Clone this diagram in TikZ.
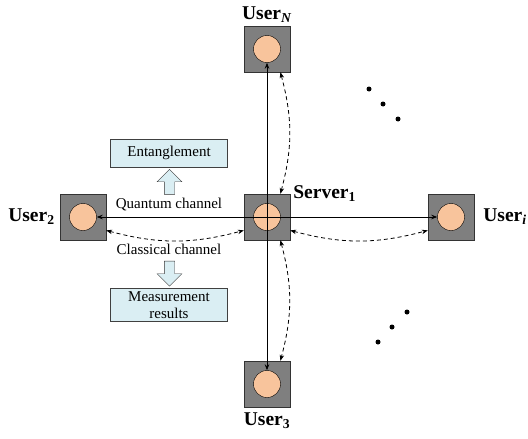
\documentclass[tikz,border=0pt]{standalone}
\usepackage{fontspec}
\setmainfont{Liberation Serif}
\usetikzlibrary{arrows.meta,positioning,shapes.arrows}
\definecolor{boxgray}{HTML}{7F7F7F}
\definecolor{peach}{HTML}{F8C49C}
\definecolor{paleblue}{HTML}{DAEEF3}

\begin{document}
\begin{tikzpicture}[x=1pt,y=-1pt,
    lbl/.style={inner sep=1pt,font=\fontsize{19.5}{21}\selectfont\bfseries},
    small/.style={inner sep=1pt,font=\fontsize{15}{16}\selectfont},
    infobox/.style={draw=black!75,fill=paleblue,minimum width=117pt,inner sep=1pt,
        align=center,font=\fontsize{15}{17}\selectfont},
    blockarrow/.style={draw=black!80,fill=paleblue,single arrow,minimum width=21pt,
        minimum height=25pt,inner sep=5pt}]
    \useasboundingbox (0,0) rectangle (528,439);

    % server and user boxes, use the tuple for location
    \begin{scope}[every node/.style={draw=black!80,fill=boxgray,minimum size=46pt,inner sep=0pt}]
    \node (S) at (267,217) {};
    \node (UN) at (267,49) {};
    \node (U2) at (83,217) {};
    \node (Ui) at (451,217) {};
    \node (U3) at (267,384) {};
    \end{scope}

    \begin{scope}[every node/.style={circle,draw=black,fill=peach,minimum size=27pt,inner sep=0pt}]
    \node (Sc) at (S) {};
    \node (UNc) at (UN) {};
    \node (U2c) at (U2) {};
    \node (Uic) at (Ui) {};
    \node (U3c) at (U3) {};
    \end{scope}

    % names
    \node[lbl] (SL) [anchor=west,xshift=2pt] at (S.north east) {Server\textsubscript{1}};
    \node[lbl] (UNL) [above=2pt of UN] {User\textsubscript{\textit{N}}};
    \node[lbl] (U2L) [left=4pt of U2] {User\textsubscript{2}};
    \node[lbl] (UiL) [right=8pt of Ui] {User\textsubscript{\textit{i}}};
    \node[lbl] (U3L) [below=4pt of U3] {User\textsubscript{3}};

    % quantum channel (solid)
    \begin{scope}[>={Stealth[length=6pt,width=4.5pt]},line width=0.8pt]
    \draw[->] (Sc.center) -- (UNc);
    \draw[->] (Sc.center) -- (U3c);
    \draw[->] (Sc.center) -- (U2c);
    \draw[->] (Sc.center) -- (Uic);

    % classical channel (dashed)
    \begin{scope}[dash pattern=on 4pt off 3pt]
    \draw[<->] (U2.-30) to[bend right=15] (S.210);
    \draw[<->] (S.-30) to[bend right=15] (Ui.210);
    \draw[<->] (S.60) to[bend right=15] (UN.-60);
    \draw[<->] (S.-60) to[bend left=15] (U3.60);
    \end{scope}
    \end{scope}

    % channel texts
    \node[small] (QC) at (169,205) {Quantum channel};
    \node[small] (CC) at (169,249) {Classical channel};
    \node[infobox,minimum height=28pt] (E) at (169,153) {Entanglement};
    \node[infobox,minimum height=33pt] (M) at (169,305) {Measurement\\results};
    \node[blockarrow,shape border rotate=90] (AU) at (169.5,184.5) {};
    \node[blockarrow,shape border rotate=270] (AD) at (169.5,271) {};

    % more users
    \foreach \p in {(369,89),(383,104),(398,119),(407,312),(392,327),(378,342)}
        \fill \p circle (2.5pt);

\end{tikzpicture}
\end{document}
